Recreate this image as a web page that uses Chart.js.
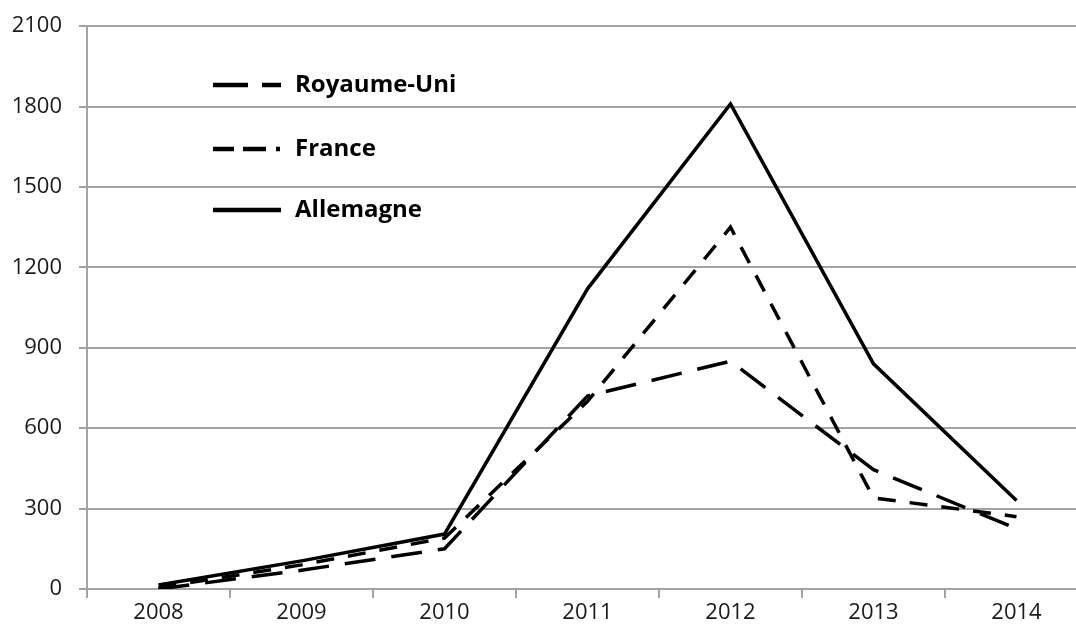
<!DOCTYPE html>
<html><head><meta charset="utf-8">
<script src="https://cdn.jsdelivr.net/npm/chart.js@4.4.0/dist/chart.umd.min.js"></script>
<style>
html,body{margin:0;padding:0;background:#fff;overflow:hidden;width:1076px;height:633px}
#wrap{position:relative;width:1110px;height:637px;margin-top:-4px}
</style></head>
<body><div id="wrap"><canvas id="c" width="1110" height="637"></canvas></div>
<script>
const years = ['2008','2009','2010','2011','2012','2013','2014'];
const royaumeUni = [0, 70, 150, 720, 850, 445, 225];
const france = [5, 90, 190, 700, 1350, 340, 270];
const allemagne = [15, 105, 205, 1120, 1810, 840, 330];
const yTicks = [0, 300, 600, 900, 1200, 1500, 1800, 2100];
const seriesNames = ['Royaume-Uni', 'France', 'Allemagne'];

const GRID = '#a3a3a3';
const FONT = '"Open Sans", sans-serif';

const legendPlugin = {
  id: 'customLegend',
  afterDraw(chart) {
    const ctx = chart.ctx;
    const rows = [89, 153, 214];
    const dashes = [[35, 14], [21, 9, 23, 10, 4, 100], []];
    chart.data.datasets.forEach((ds, i) => {
      const y = rows[i];
      ctx.save();
      ctx.strokeStyle = '#000';
      ctx.lineWidth = 4.5;
      ctx.setLineDash(dashes[i]);
      ctx.beginPath();
      ctx.moveTo(213, y);
      ctx.lineTo(281, y);
      ctx.stroke();
      ctx.setLineDash([]);
      ctx.fillStyle = '#000';
      ctx.font = 'bold 24px ' + FONT;
      ctx.textBaseline = 'middle';
      ctx.textAlign = 'left';
      ctx.fillText(ds.label, 295, y);
      ctx.restore();
    });
  }
};

new Chart(document.getElementById('c'), {
  type: 'line',
  data: {
    labels: years,
    datasets: [
      { label: seriesNames[0], data: royaumeUni, borderColor: '#000', borderWidth: 3.5, borderDash: [31, 16], pointRadius: 0, tension: 0, fill: false },
      { label: seriesNames[1], data: france, borderColor: '#000', borderWidth: 3.5, borderDash: [18, 14], pointRadius: 0, tension: 0, fill: false },
      { label: seriesNames[2], data: allemagne, borderColor: '#000', borderWidth: 3.5, pointRadius: 0, tension: 0, fill: false }
    ]
  },
  options: {
    responsive: false,
    animation: false,
    devicePixelRatio: 1,
    layout: { padding: { top: 17, right: 22, left: 0, bottom: 0 } },
    plugins: { legend: { display: false }, tooltip: { enabled: false } },
    scales: {
      x: {
        offset: true,
        grid: { offset: true, drawOnChartArea: false, drawTicks: true, tickLength: 9, color: GRID, lineWidth: 2 },
        border: { display: true, color: GRID, width: 2 },
        ticks: { font: { family: FONT, size: 22 }, color: '#1a1a1a', padding: 2, maxRotation: 0 },
        afterFit(s) { s.height = 44; }
      },
      y: {
        min: 0, max: 2100,
        afterBuildTicks(s) { s.ticks = yTicks.map(v => ({ value: v })); },
        grid: { color: GRID, lineWidth: 2, drawTicks: true, tickLength: 8 },
        border: { display: true, color: GRID, width: 2 },
        ticks: { font: { family: FONT, size: 22 }, color: '#1a1a1a', padding: 17, callback: v => String(v) },
        afterFit(s) { s.width = 87; }
      }
    }
  },
  plugins: [legendPlugin]
});
</script>
</body></html>
